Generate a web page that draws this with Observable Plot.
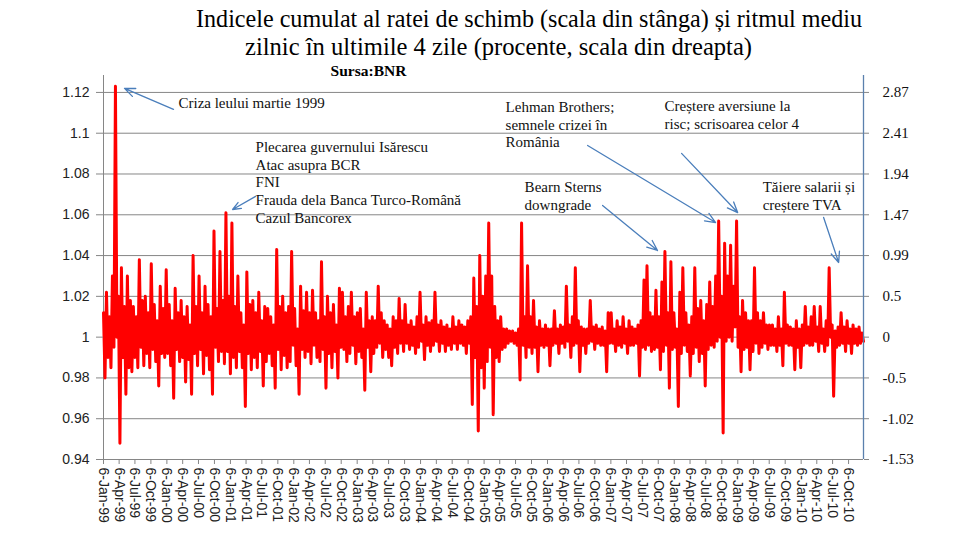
<!DOCTYPE html>
<html>
<head>
<meta charset="utf-8">
<script src="https://cdn.jsdelivr.net/npm/d3@7"></script>
<script src="https://cdn.jsdelivr.net/npm/@observablehq/plot@0.6"></script>
<style>
  html, body { margin: 0; padding: 0; background: #fff; }
  #wrap { width: 960px; height: 541px; position: relative; overflow: hidden; }
  #title { display: block; }
  #chart svg { display: block; }
</style>
</head>
<body>
<div id="wrap">
  <svg id="title" width="960" height="62"></svg>
  <div id="chart"></div>
</div>
<script>
// ---------- data ----------
const titleLines = [
  "Indicele cumulat al ratei de schimb (scala din stânga) și ritmul mediu",
  "zilnic în ultimile 4 zile (procente, scala din dreapta)"
];
const sourceText = "Sursa:BNR";

const startDate = "1999-01-06";
const endDate = "2010-12-31";

// cumulative exchange-rate index: upper and lower swing
// of the daily line in each of 255 equal time slots across the period
const slotHigh = [
  1.012, 1.022, 1.010, 1.030, 1.123, 1.020, 1.034, 1.015, 1.030, 1.018,
  1.015, 1.010, 1.038, 1.018, 1.020, 1.012, 1.036, 1.016, 1.008, 1.025,
  1.014, 1.033, 1.016, 1.008, 1.024, 1.012, 1.018, 1.010, 1.015, 1.006,
  1.040, 1.015, 1.030, 1.012, 1.025, 1.016, 1.010, 1.052, 1.014, 1.042,
  1.018, 1.061, 1.020, 1.056, 1.015, 1.030, 1.012, 1.006, 1.032, 1.016,
  1.018, 1.012, 1.022, 1.008, 1.015, 1.014, 1.010, 1.006, 1.043, 1.015,
  1.020, 1.012, 1.015, 1.042, 1.014, 1.004, 1.025, 1.013, 1.022, 1.012,
  1.023, 1.012, 1.008, 1.037, 1.010, 1.020, 1.012, 1.016, 1.006, 1.024,
  1.022, 1.010, 1.015, 1.022, 1.010, 1.012, 1.014, 1.004, 1.022, 1.008,
  1.010, 1.008, 1.025, 1.012, 1.008, 1.006, 1.004, 1.010, 1.008, 1.019,
  1.008, 1.016, 1.006, 1.008, 1.005, 1.010, 1.022, 1.006, 1.010, 1.007,
  1.008, 1.022, 1.006, 1.008, 1.005, 1.006, 1.004, 1.010, 1.005, 1.008,
  1.006, 1.005, 1.008, 1.010, 1.029, 1.015, 1.040, 1.020, 1.030, 1.056,
  1.030, 1.015, 1.008, 1.010, 1.004, 1.004, 1.003, 1.003, 1.002, 1.004,
  1.056, 1.010, 1.035, 1.010, 1.018, 1.005, 1.008, 1.004, 1.006, 1.004,
  1.004, 1.013, 1.004, 1.006, 1.005, 1.025, 1.006, 1.010, 1.034, 1.008,
  1.005, 1.004, 1.004, 1.018, 1.005, 1.006, 1.004, 1.005, 1.003, 1.012,
  1.012, 1.004, 1.008, 1.005, 1.010, 1.004, 1.008, 1.005, 1.004, 1.006,
  1.008, 1.028, 1.035, 1.012, 1.010, 1.023, 1.010, 1.027, 1.042, 1.012,
  1.037, 1.012, 1.004, 1.022, 1.034, 1.012, 1.006, 1.010, 1.034, 1.014,
  1.018, 1.008, 1.016, 1.027, 1.015, 1.030, 1.057, 1.020, 1.046, 1.030,
  1.045, 1.025, 1.057, 1.010, 1.018, 1.012, 1.008, 1.008, 1.034, 1.012,
  1.008, 1.012, 1.006, 1.006, 1.006, 1.004, 1.010, 1.004, 1.022, 1.006,
  1.005, 1.004, 1.008, 1.004, 1.006, 1.015, 1.005, 1.010, 1.015, 1.005,
  1.015, 1.004, 1.008, 1.034, 1.006, 1.003, 1.005, 1.012, 1.005, 1.008,
  1.004, 1.006, 1.004, 1.005, 1.002
];
const slotLow = [
  0.980, 0.990, 0.985, 0.995, 1.000, 0.948, 0.990, 0.972, 0.985, 0.983,
  0.990, 0.985, 0.995, 0.986, 0.992, 0.985, 0.994, 0.988, 0.976, 0.992,
  0.990, 0.992, 0.986, 0.970, 0.994, 0.988, 0.990, 0.978, 0.989, 0.972,
  0.992, 0.986, 0.994, 0.982, 0.991, 0.984, 0.972, 0.995, 0.988, 0.993,
  0.987, 0.993, 0.982, 0.990, 0.985, 0.993, 0.985, 0.966, 0.992, 0.984,
  0.990, 0.985, 0.993, 0.976, 0.988, 0.992, 0.986, 0.975, 0.994, 0.984,
  0.991, 0.985, 0.988, 0.996, 0.986, 0.972, 0.994, 0.990, 0.993, 0.987,
  0.996, 0.990, 0.988, 0.994, 0.975, 0.992, 0.985, 0.993, 0.980, 0.995,
  0.994, 0.988, 0.992, 0.996, 0.987, 0.993, 0.990, 0.974, 0.995, 0.983,
  0.992, 0.995, 0.997, 0.990, 0.994, 0.990, 0.986, 0.995, 0.992, 0.997,
  0.993, 0.997, 0.994, 0.996, 0.992, 0.995, 0.998, 0.989, 0.996, 0.993,
  0.996, 0.998, 0.993, 0.997, 0.993, 0.996, 0.994, 0.997, 0.994, 0.997,
  0.996, 0.992, 0.997, 0.967, 0.990, 0.954, 0.985, 0.975, 0.988, 0.995,
  0.962, 0.990, 0.988, 0.994, 0.995, 0.997, 0.998, 0.997, 0.996, 0.979,
  0.996, 0.990, 0.995, 0.992, 0.995, 0.983, 0.996, 0.995, 0.996, 0.986,
  0.996, 0.997, 0.992, 0.997, 0.995, 0.998, 0.990, 0.996, 0.997, 0.983,
  0.996, 0.992, 0.997, 0.998, 0.994, 0.997, 0.996, 0.996, 0.983, 0.997,
  0.997, 0.993, 0.996, 0.995, 0.997, 0.992, 0.996, 0.996, 0.997, 0.981,
  0.995, 0.994, 0.996, 0.993, 0.994, 0.995, 0.984, 0.993, 0.996, 0.975,
  0.994, 0.995, 0.966, 0.992, 0.996, 0.993, 0.981, 0.992, 0.995, 0.988,
  0.992, 0.976, 0.994, 0.996, 0.995, 0.998, 1.000, 0.953, 0.998, 1.000,
  0.998, 1.005, 0.995, 0.983, 0.994, 0.995, 0.984, 0.993, 0.997, 0.992,
  0.995, 0.997, 0.994, 0.996, 0.996, 0.993, 0.996, 0.986, 0.997, 0.996,
  0.996, 0.984, 0.995, 0.985, 0.996, 0.997, 0.996, 0.996, 0.998, 0.993,
  0.997, 0.993, 0.996, 1.000, 0.971, 0.995, 0.996, 0.997, 0.993, 0.997,
  0.992, 0.997, 0.996, 0.997, 0.998
];

// axes
const leftTicks = [0.94, 0.96, 0.98, 1, 1.02, 1.04, 1.06, 1.08, 1.1, 1.12];
const rightLabels = ["-1.53", "-1.02", "-0.5", "0", "0.5", "0.99", "1.47", "1.94", "2.41", "2.87"];
const tickYears = [1999, 2000, 2001, 2002, 2003, 2004, 2005, 2006, 2007, 2008, 2009, 2010];
const tickMonths = ["Jan", "Apr", "Jul", "Oct"];
const tickDay = 6;

// annotations (time as decimal year, value on the left scale)
const noteLabels = [
  "Criza leului martie 1999",
  "Plecarea guvernului Isărescu\nAtac asupra BCR\nFNI\nFrauda dela Banca Turco-Română\nCazul Bancorex",
  "Lehman Brothers;\nsemnele crizei în\nRomânia",
  "Creștere aversiune la\nrisc; scrisoarea celor 4",
  "Bearn Sterns\ndowngrade",
  "Tăiere salarii și\ncreștere TVA"
];
const noteTime = [2000.196, 2001.411, 2005.353, 2007.861, 2005.653, 2009.406];
const noteValue = [1.1185, 1.0969, 1.1166, 1.1170, 1.0773, 1.0773];
const arrowFromTime = [2000.118, 2001.411, 2006.647, 2008.129, 2006.883, 2010.368];
const arrowFromValue = [1.1117, 1.0690, 1.0940, 1.0901, 1.0646, 1.0587];
const arrowToTime = [1999.345, 2001.048, 2008.665, 2009.012, 2007.750, 2010.605];
const arrowToValue = [1.1220, 1.0626, 1.0562, 1.0611, 1.0425, 1.0366];
const sourceTime = 2002.594;
const sourceValue = 1.1305;

// ---------- build ----------
const parse = s => new Date(s + "T00:00:00Z");
const t0 = parse(startDate), t1 = parse(endDate);
const slotMs = (t1 - t0) / (slotHigh.length - 0.5);
const series = [];
slotHigh.forEach((h, i) => {
  series.push({date: new Date(+t0 + i * slotMs), value: h});
  series.push({date: new Date(+t0 + (i + 0.5) * slotMs), value: slotLow[i]});
});

const yr = y => {
  const Y = Math.floor(y);
  const a = Date.UTC(Y, 0, 1), b = Date.UTC(Y + 1, 0, 1);
  return new Date(a + (y - Y) * (b - a));
};
const notes = noteLabels.map((label, i) => ({label, x: yr(noteTime[i]), y: noteValue[i]}));
const arrows = arrowFromTime.map((t, i) => ({
  x1: yr(t), y1: arrowFromValue[i], x2: yr(arrowToTime[i]), y2: arrowToValue[i]
}));

const xTicks = [];
tickYears.forEach(y => tickMonths.forEach((m, j) => xTicks.push(new Date(Date.UTC(y, j * 3, tickDay)))));
const fmtX = d => `${d.getUTCDate()}-${tickMonths[d.getUTCMonth() / 3]}-${String(d.getUTCFullYear()).slice(2)}`;
const rightMap = new Map(leftTicks.map((t, i) => [t, rightLabels[i]]));

// title (above the plot)
const ts = d3.select("#title");
ts.append("text").attr("x", 196).attr("y", 27).attr("textLength", 666).attr("lengthAdjust", "spacingAndGlyphs")
  .attr("font-family", "Liberation Serif").attr("font-size", 25).attr("fill", "#000").text(titleLines[0]);
ts.append("text").attr("x", 245).attr("y", 55).attr("textLength", 507).attr("lengthAdjust", "spacingAndGlyphs")
  .attr("font-family", "Liberation Serif").attr("font-size", 25).attr("fill", "#000").text(titleLines[1]);

const chart = Plot.plot({
  width: 960,
  height: 479,
  marginLeft: 103,
  marginRight: 97,
  marginTop: 13,
  marginBottom: 82,
  style: {fontFamily: "Liberation Sans", fontSize: "14px", color: "#222", background: "#fff", overflow: "visible"},
  x: {type: "utc", domain: [t0, t1]},
  y: {domain: [0.94, 1.1283]},
  marks: [
    Plot.gridY(leftTicks, {stroke: "#868686", strokeOpacity: 1, strokeWidth: 1}),
    Plot.ruleX([t0], {stroke: "#868686", strokeWidth: 1}),
    Plot.line(series, {x: "date", y: "value", stroke: "#ff0000", strokeWidth: 3, strokeLinejoin: "round"}),
    Plot.ruleX([t1], {stroke: "#5b80ad", strokeWidth: 1.3}),
    Plot.axisY(leftTicks, {anchor: "left", tickSize: 7, tickPadding: 7, stroke: "#868686", fill: "#222",
      tickFormat: d => String(+d.toFixed(2)), fontSize: 14}),
    Plot.axisY(leftTicks, {anchor: "right", tickSize: 5, tickPadding: 14, stroke: "#868686", fill: "#111",
      tickFormat: d => rightMap.get(d), fontFamily: "Liberation Serif", fontSize: 15}),
    Plot.axisX(xTicks, {anchor: "bottom", tickSize: 5, tickPadding: 3, tickRotate: 90, stroke: "#868686",
      fill: "#222", tickFormat: fmtX, fontSize: 14}),
    Plot.arrow(arrows, {x1: "x1", y1: "y1", x2: "x2", y2: "y2", stroke: "#4a7ebb", strokeWidth: 1.3,
      headLength: 13, headAngle: 45}),
    Plot.text(notes, {x: "x", y: "y", text: "label", textAnchor: "start", lineAnchor: "top", lineHeight: 1.18,
      fontFamily: "Liberation Serif", fontSize: 15, fill: "#111"}),
    Plot.text([sourceText], {x: yr(sourceTime), y: sourceValue, text: d => d, textAnchor: "start",
      lineAnchor: "middle", fontFamily: "Liberation Serif", fontWeight: "bold", fontSize: 15.5, fill: "#000"})
  ]
});
document.getElementById("chart").appendChild(chart);
</script>
</body>
</html>
